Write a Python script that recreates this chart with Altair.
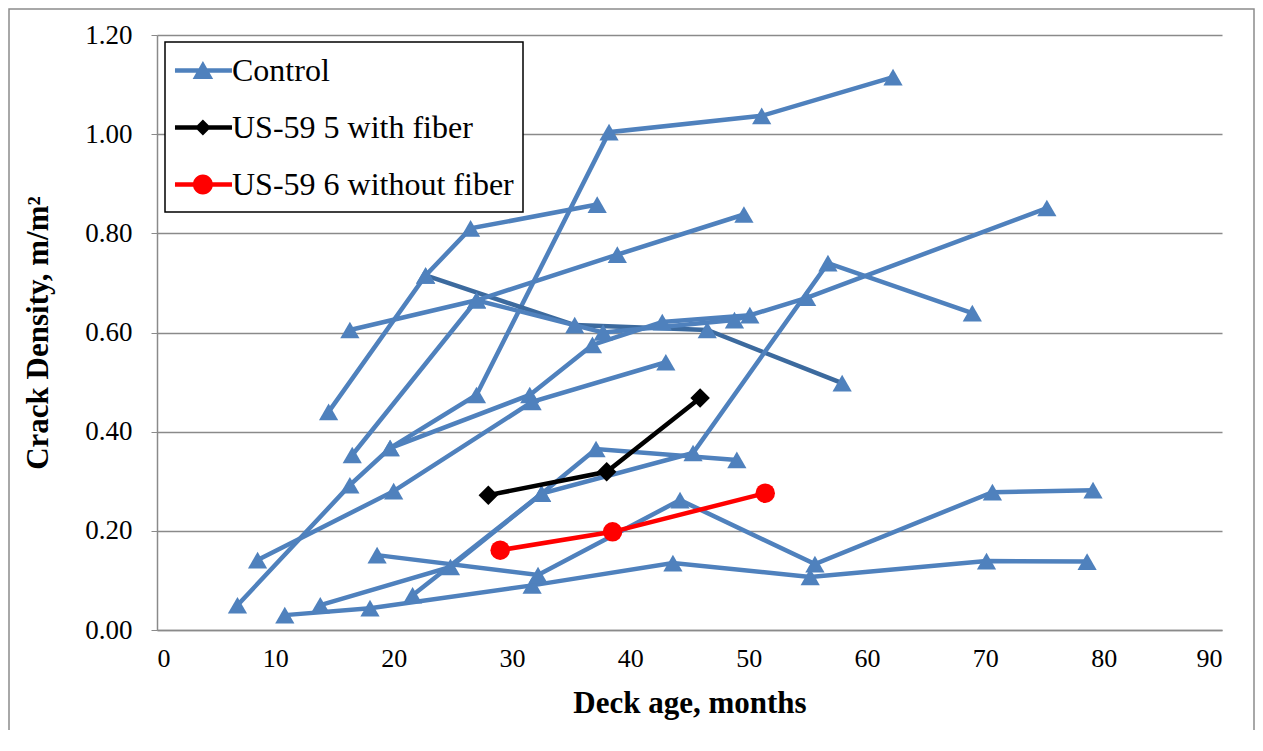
import altair as alt
import pandas as pd

# ---------------- data (deck age in months, crack density in m/m2) ----------------
c01_x = [6.8, 16.3, 19.7, 27.0, 38.2, 51.1, 62.2]
c01_y = [0.050, 0.292, 0.367, 0.474, 1.004, 1.037, 1.115]
c02_x = [14.5, 22.7, 26.5, 37.2]
c02_y = [0.440, 0.715, 0.810, 0.858]
c03_x = [22.7, 35.3, 46.5, 57.9]          # darker control line
c03_y = [0.715, 0.615, 0.605, 0.498]
c04_x = [16.3, 27.0, 38.9, 49.6]
c04_y = [0.605, 0.665, 0.757, 0.838]
c05_x = [16.5, 27.0, 37.7, 48.8, 54.9, 75.2]
c05_y = [0.353, 0.665, 0.600, 0.625, 0.670, 0.851]
c06_x = [19.7, 31.5, 36.8, 42.7, 50.1]
c06_y = [0.367, 0.474, 0.575, 0.621, 0.635]
c07_x = [8.5, 20.0, 31.7, 43.0]
c07_y = [0.141, 0.280, 0.460, 0.540]
c08_x = [13.8, 24.8, 32.5, 37.1, 49.0]
c08_y = [0.050, 0.127, 0.275, 0.365, 0.343]
c09_x = [21.6, 32.5, 45.3, 56.7, 68.9]
c09_y = [0.070, 0.275, 0.357, 0.740, 0.639]
c10_x = [10.8, 18.0, 31.7, 43.6, 55.2, 70.1, 78.6]
c10_y = [0.030, 0.044, 0.090, 0.135, 0.107, 0.139, 0.138]
c11_x = [18.6, 32.2, 44.2, 55.6, 70.6, 79.1]
c11_y = [0.151, 0.111, 0.262, 0.133, 0.278, 0.282]

fiber_x = [28.0, 38.0, 45.9]
fiber_y = [0.272, 0.319, 0.468]
nofiber_x = [29.0, 38.5, 51.4]
nofiber_y = [0.161, 0.198, 0.276]

groups = ["Control", "US-59 5 with fiber", "US-59 6 without fiber"]
group_colors = ["#4F81BD", "#000000", "#FF0000"]

x_ticks = [0, 10, 20, 30, 40, 50, 60, 70, 80, 90]
y_ticks = [0.0, 0.2, 0.4, 0.6, 0.8, 1.0, 1.2]

# ---------------- tables ----------------
control = [
    (c01_x, c01_y), (c02_x, c02_y), (c03_x, c03_y), (c04_x, c04_y),
    (c05_x, c05_y), (c06_x, c06_y), (c07_x, c07_y), (c08_x, c08_y),
    (c09_x, c09_y), (c10_x, c10_y), (c11_x, c11_y),
]
rows = []
for i, (xs, ys) in enumerate(control):
    lc = "#3C6A9E" if i == 2 else "#4F81BD"
    for k, (x, y) in enumerate(zip(xs, ys)):
        rows.append({"series": f"C{i+1}", "x": x, "y": y, "order": k, "lc": lc})
ctrl_df = pd.DataFrame(rows)

frows = []
for name, xs, ys, col, shp in [
    ("fiber", fiber_x, fiber_y, "#000000", "diamond"),
    ("nofiber", nofiber_x, nofiber_y, "#FF0000", "circle"),
]:
    for k, (x, y) in enumerate(zip(xs, ys)):
        frows.append({"series": name, "x": x, "y": y, "order": k, "lc": col, "shp": shp})
fib_df = pd.DataFrame(frows)

legend_df = pd.DataFrame({"grp": groups})

FONT = "Times New Roman, Liberation Serif, serif"

xenc = alt.X("x:Q", scale=alt.Scale(domain=[0, 90], nice=False),
             axis=alt.Axis(values=x_ticks, title="Deck age, months", grid=False,
                           labelFontSize=26, titleFontSize=31, titleFontWeight="bold",
                           labelPadding=15, titlePadding=17, ticks=False,
                           domainColor="#8A8A8A", domainWidth=1.5,
                           labelColor="black", titleColor="black",
                           labelFont=FONT, titleFont=FONT))
yenc = alt.Y("y:Q", scale=alt.Scale(domain=[0, 1.2], nice=False),
             axis=alt.Axis(values=y_ticks, format=".2f", title="Crack Density, m/m²",
                           labelFontSize=27, titleFontSize=31, titleFontWeight="bold",
                           labelPadding=19, titlePadding=30, tickSize=6,
                           tickColor="#8A8A8A", domainColor="#8A8A8A", domainWidth=1.5,
                           gridColor="#8A8A8A", gridWidth=1.5,
                           labelColor="black", titleColor="black",
                           labelFont=FONT, titleFont=FONT))

one = pd.DataFrame({"a": [0]})
frame = alt.Chart(one).mark_rect(
    fillOpacity=0, stroke="#8C8C8C", strokeWidth=1.5
).encode(x=alt.value(-148), x2=alt.value(1097), y=alt.value(-26), y2=alt.value(740))

legend_box = alt.Chart(one).mark_rect(
    fill="white", stroke="black", strokeWidth=1.5
).encode(x=alt.value(8), x2=alt.value(366), y=alt.value(7), y2=alt.value(177))

ctrl_lines = alt.Chart(ctrl_df).mark_line(strokeWidth=4.5).encode(
    x=xenc, y=yenc, detail="series:N", order="order:Q",
    color=alt.Color("lc:N", scale=None),
)
ctrl_pts = alt.Chart(ctrl_df).mark_point(
    shape="triangle-up", filled=True, size=370, opacity=1, color="#4F81BD"
).encode(x="x:Q", y="y:Q")

fib_lines = alt.Chart(fib_df).mark_line(strokeWidth=4.5).encode(
    x="x:Q", y="y:Q", detail="series:N", order="order:Q",
    color=alt.Color("lc:N", scale=None),
)
fib_pts = alt.Chart(fib_df).mark_point(filled=True, size=380, opacity=1).encode(
    x="x:Q", y="y:Q",
    color=alt.Color("lc:N", scale=None),
    shape=alt.Shape("shp:N", scale=None),
)

# legend symbols: a filled bar (the line) plus the marker, all filled
paths = [
    "M-0.65,-0.075H1.35V0.075H-0.65ZM0.33,-0.33L0.69,0.3L-0.03,0.3Z",
    "M-0.65,-0.075H1.35V0.075H-0.65ZM0.33,-0.28L0.61,0L0.33,0.28L0.05,0Z",
    "M-0.65,-0.075H1.35V0.075H-0.65ZM0.68,0A0.35,0.35,0,1,1,-0.02,0A0.35,0.35,0,1,1,0.68,0Z",
]
leg = alt.Legend(
    title=None, orient="none", legendX=8, legendY=7, padding=0,
    symbolSize=3249, symbolStrokeWidth=0, symbolOpacity=1,
    labelFont=FONT, labelFontSize=32, labelColor="black", labelOffset=10,
    labelLimit=0, rowPadding=12,
)
legend_layer = alt.Chart(legend_df).mark_point(filled=True, opacity=1).encode(
    color=alt.Color("grp:N", scale=alt.Scale(domain=groups, range=group_colors), legend=leg),
    shape=alt.Shape("grp:N", scale=alt.Scale(domain=groups, range=paths), legend=leg),
).transform_filter("false")

chart = alt.layer(frame, ctrl_lines, ctrl_pts, fib_lines, fib_pts, legend_box, legend_layer).resolve_scale(
    color="independent", shape="independent"
).properties(
    width=1065, height=595,
    autosize=alt.AutoSizeParams(type="none"),
    padding={"left": 149, "top": 27, "right": 33, "bottom": 100},
    background="white",
).configure_view(stroke=None)

chart.save("out.html", embed_options={"renderer": "svg", "actions": False})
